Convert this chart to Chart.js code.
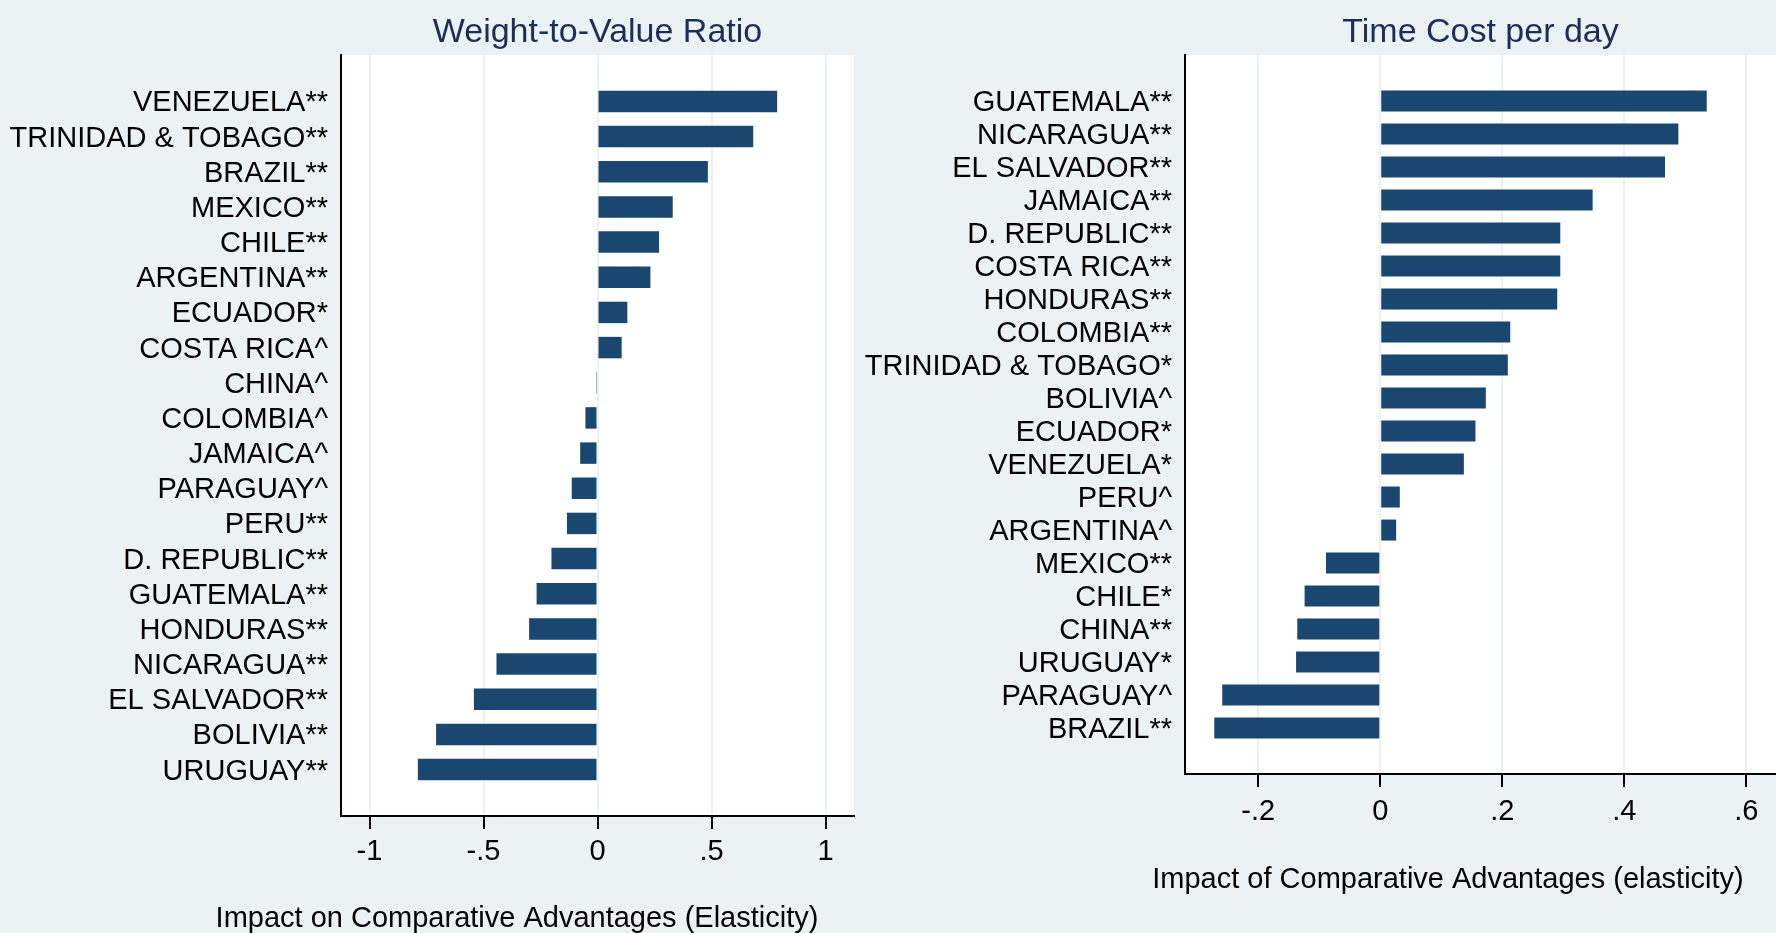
<!DOCTYPE html>
<html>
<head>
<meta charset="utf-8">
<script src="https://cdn.jsdelivr.net/npm/chart.js@4.4.1/dist/chart.umd.min.js"></script>
<style>
  html, body { margin: 0; padding: 0; background: #eaf2f3; }
  #wrap { position: relative; width: 1776px; height: 933px; overflow: hidden; }
  .box { position: absolute; top: 0; height: 933px; }
  #leftBox { left: 0; width: 860px; }
  #rightBox { left: 860px; width: 916px; }
</style>
</head>
<body>
<div id="wrap">
  <div class="box" id="leftBox"><canvas id="leftChart"></canvas></div>
  <div class="box" id="rightBox"><canvas id="rightChart"></canvas></div>
</div>
<script>
// Weight-to-Value Ratio (left panel)
const wvCountries = ['VENEZUELA**', 'TRINIDAD & TOBAGO**', 'BRAZIL**', 'MEXICO**', 'CHILE**',
  'ARGENTINA**', 'ECUADOR*', 'COSTA RICA^', 'CHINA^', 'COLOMBIA^', 'JAMAICA^', 'PARAGUAY^',
  'PERU**', 'D. REPUBLIC**', 'GUATEMALA**', 'HONDURAS**', 'NICARAGUA**', 'EL SALVADOR**',
  'BOLIVIA**', 'URUGUAY**'];
const wvValues = [0.788, 0.683, 0.484, 0.330, 0.270, 0.232, 0.131, 0.106, -0.006, -0.053,
  -0.076, -0.113, -0.134, -0.202, -0.267, -0.300, -0.443, -0.542, -0.708, -0.788];
const wvTicks = [-1, -0.5, 0, 0.5, 1];
const wvTickLabels = ['-1', '-.5', '0', '.5', '1'];

// Time Cost per day (right panel)
const tcCountries = ['GUATEMALA**', 'NICARAGUA**', 'EL SALVADOR**', 'JAMAICA**', 'D. REPUBLIC**',
  'COSTA RICA**', 'HONDURAS**', 'COLOMBIA**', 'TRINIDAD & TOBAGO*', 'BOLIVIA^', 'ECUADOR*',
  'VENEZUELA*', 'PERU^', 'ARGENTINA^', 'MEXICO**', 'CHILE*', 'CHINA**', 'URUGUAY*',
  'PARAGUAY^', 'BRAZIL**'];
const tcValues = [0.535, 0.4885, 0.4666, 0.348, 0.295, 0.295, 0.290, 0.213, 0.209, 0.173,
  0.156, 0.137, 0.032, 0.026, -0.089, -0.124, -0.136, -0.138, -0.259, -0.272];
const tcTicks = [-0.2, 0, 0.2, 0.4, 0.6];
const tcTickLabels = ['-.2', '0', '.2', '.4', '.6'];

const FONT = "'Liberation Sans', Arial, sans-serif";
const BAR = '#1a476f';
const BG = '#eaf2f3';

// fond blanc de la zone de tracé + titres dessinés à la main
const panelText = {
  id: 'panelText',
  beforeDraw(chart) {
    const { ctx, chartArea } = chart;
    ctx.save();
    ctx.fillStyle = '#ffffff';
    ctx.fillRect(chartArea.left, chartArea.top, chartArea.right - chartArea.left, chartArea.bottom - chartArea.top);
    ctx.restore();
  },
  afterDraw(chart, args, opts) {
    const { ctx, chartArea } = chart;
    ctx.save();
    ctx.textAlign = 'center';
    ctx.textBaseline = 'alphabetic';
    ctx.fillStyle = '#1e2d5a';
    ctx.font = '34px ' + FONT;
    ctx.fillText(opts.title, (chartArea.left + chartArea.right) / 2, opts.titleY);
    ctx.fillStyle = '#000000';
    ctx.font = '29px ' + FONT;
    ctx.fillText(opts.axisTitle, opts.axisTitleX, opts.axisTitleY);
    ctx.restore();
  }
};

function makePanel(canvasId, countries, values, ticks, tickLabels, cfg) {
  const points = values.map((v, i) => ({ x: v, y: i }));
  return new Chart(document.getElementById(canvasId), {
    type: 'bar',
    data: {
      datasets: [{
        data: points,
        backgroundColor: BAR,
        borderWidth: 0,
        barPercentage: cfg.barPct,
        categoryPercentage: 1
      }]
    },
    plugins: [panelText],
    options: {
      indexAxis: 'y',
      responsive: true,
      maintainAspectRatio: false,
      animation: false,
      layout: { padding: { top: 55, left: 0, right: cfg.padRight, bottom: 0 } },
      plugins: {
        legend: { display: false },
        tooltip: { enabled: false },
        panelText: {
          title: cfg.title,
          titleY: 42,
          axisTitle: cfg.axisTitle,
          axisTitleX: cfg.axisTitleX,
          axisTitleY: cfg.axisTitleY
        }
      },
      scales: {
        x: {
          type: 'linear',
          min: cfg.xMin,
          max: cfg.xMax,
          afterBuildTicks: (scale) => { scale.ticks = ticks.map(v => ({ value: v })); },
          afterFit: (scale) => { scale.height = cfg.xHeight; },
          grid: {
            color: BG,
            lineWidth: 2,
            drawTicks: true,
            tickLength: 13,
            tickColor: '#000000',
            tickWidth: 2
          },
          border: { display: true, color: '#000000', width: 2 },
          ticks: {
            color: '#000000',
            font: { family: FONT, size: 29 },
            padding: cfg.xTickPad,
            maxRotation: 0,
            autoSkip: false,
            callback: (v, i) => tickLabels[i]
          }
        },
        y: {
          type: 'linear',
          reverse: true,
          offset: false,
          min: cfg.yMin,
          max: countries.length - 1 - cfg.yMin,
          afterBuildTicks: (scale) => { scale.ticks = countries.map((c, i) => ({ value: i })); },
          afterFit: (scale) => { scale.width = cfg.yWidth; },
          grid: { display: false, drawTicks: false },
          border: { display: true, color: '#000000', width: 2 },
          ticks: {
            color: '#000000',
            font: { family: FONT, size: 29, lineHeight: 1 },
            padding: 13,
            labelOffset: 2,
            autoSkip: false,
            callback: (v) => countries[v]
          }
        }
      }
    }
  });
}

makePanel('leftChart', wvCountries, wvValues, wvTicks, wvTickLabels, {
  title: 'Weight-to-Value Ratio',
  axisTitle: 'Impact on Comparative Advantages (Elasticity)',
  axisTitleX: 517, axisTitleY: 927,
  xMin: -1.125, xMax: 1.125,
  yMin: -1.32, yWidth: 341, xHeight: 117, padRight: 6, xTickPad: 6,
  barPct: 0.61
});

makePanel('rightChart', tcCountries, tcValues, tcTicks, tcTickLabels, {
  title: 'Time Cost per day',
  axisTitle: 'Impact of Comparative Advantages (elasticity)',
  axisTitleX: 588, axisTitleY: 888,
  xMin: -0.32, xMax: 0.6485,
  yMin: -1.39, yWidth: 325, xHeight: 159, padRight: 0, xTickPad: 8,
  barPct: 0.636
});
</script>
</body>
</html>
